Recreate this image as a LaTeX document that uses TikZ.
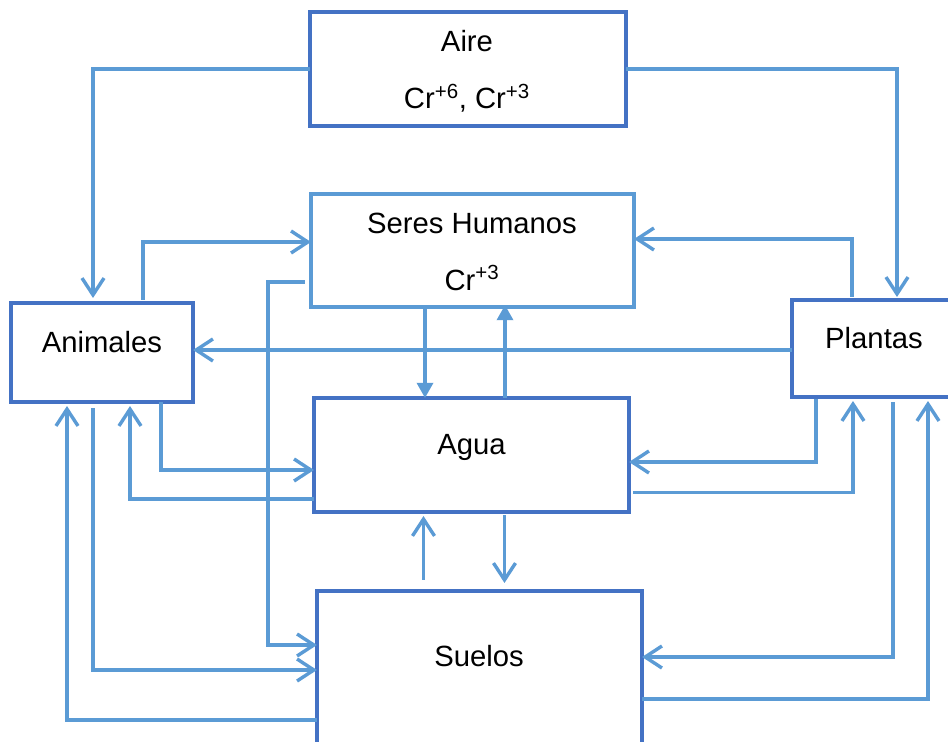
\documentclass[tikz,border=0pt]{standalone}
\usepackage{fontspec}
\setmainfont{Liberation Sans}
\usetikzlibrary{arrows.meta,calc}
\definecolor{boxblue}{HTML}{4472C4}
\definecolor{linkblue}{HTML}{5B9BD5}
\begin{document}
\begin{tikzpicture}[x=0.025cm, y=-0.025cm,
    box/.style={draw=boxblue, line width=0.1cm, inner sep=0pt, outer sep=0pt},
    conn/.style={draw=linkblue, line width=0.085cm, -{Straight Barb[length=0.42cm, width=0.55cm, line width=0.085cm]}},
    tri/.style={draw=linkblue, line width=0.085cm, -{Triangle[length=0.38cm, width=0.4cm]}},
    txt/.style={anchor=base, inner sep=0pt, font=\fontsize{20.8}{25}\selectfont}]
    \clip (0,0) rectangle (948,742);
    \fill[white] (0,0) rectangle (948,742);
    % boxes
    \node[box, minimum width=7.9cm, minimum height=2.85cm] (aire) at (468,69) {};
    \node[box, draw=linkblue, minimum width=8.075cm, minimum height=2.825cm] (seres) at (472.5,250.5) {};
    \node[box, minimum width=4.55cm, minimum height=2.475cm] (animales) at (102,352.5) {};
    \node[box, minimum width=4.1cm, minimum height=2.425cm] (plantas) at (874,348.5) {};
    \node[box, minimum width=7.875cm, minimum height=2.85cm] (agua) at (471.5,455) {};
    \node[box, minimum width=8.125cm, minimum height=4.25cm] (suelos) at (479.5,676) {};
    % texts
    \node[txt] (aireT) at (467,52) {Aire};
    \node[txt] (aireCr) at (467,109) {Cr\textsuperscript{+6}, Cr\textsuperscript{+3}};
    \node[txt] (seresT) at (472,233) {Seres Humanos};
    \node[txt] (seresCr) at (472,290) {Cr\textsuperscript{+3}};
    \node[txt] (animalesT) at (102,352) {Animales};
    \node[txt] (plantasT) at (874,348) {Plantas};
    \node[txt] (aguaT) at (471.5,454) {Agua};
    \node[txt] (suelosT) at (479,666) {Suelos};
    % air
    \draw[conn] (aire.west) -| ($(animales.north)+(-9,-5)$);
    \draw[conn] (aire.east) -| ($(plantas.north)+(23,-3)$);
    % human beings
    \draw[conn] ($(animales.north)+(41,-3)$) |- ($(seres.west)+(0,-8.5)$);
    \draw[conn] ($(plantas.north)+(-22,-3)$) |- ($(seres.east)+(0,-11.5)$);
    \draw[conn] ($(seres.west)+(-6,31.5)$) -| ($(suelos.west)+(-49,-31)$) -- ($(suelos.west)+(0,-31)$);
    \draw[tri] ($(seres.south)+(-47.5,0)$) -- ($(agua.north)+(-46.5,0)$);
    \draw[tri] ($(agua.north)+(33.5,0)$) -- ($(seres.south)+(32.5,-2)$);
    % plants to animals
    \draw[conn] ($(plantas.west)+(0,1.5)$) -- ($(animales.east)+(0,-2.5)$);
    % animals
    \draw[conn] ($(animales.south)+(59,0)$) |- ($(agua.west)+(0,15)$);
    \draw[conn] ($(agua.west)+(0,44)$) -| ($(animales.south)+(28,4)$);
    \draw[conn] ($(animales.south)+(-9,6)$) |- ($(suelos.west)+(0,-6)$);
    \draw[conn] ($(suelos.west)+(0,44)$) -| ($(animales.south)+(-35,4)$);
    % plants
    \draw[conn] ($(plantas.south)+(-58,2)$) |- ($(agua.east)+(0,7)$);
    \draw[conn] ($(agua.east)+(4,37.5)$) -| ($(plantas.south)+(-21,4)$);
    \draw[conn] ($(plantas.south)+(19,5)$) |- ($(suelos.east)+(0,-19)$);
    \draw[conn] ($(suelos.east)+(0,23)$) -| ($(plantas.south)+(54,4)$);
    % water and soil
    \draw[conn] ($(suelos.north)+(-56,-11)$) -- ($(agua.south)+(-48,4)$);
    \draw[conn] ($(agua.south)+(33,3)$) -- ($(suelos.north)+(25,-8)$);
\end{tikzpicture}
\end{document}
